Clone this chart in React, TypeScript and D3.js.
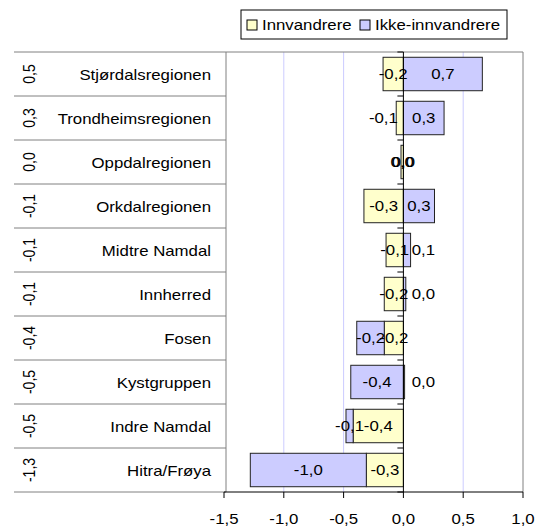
import React from 'react';
import * as d3 from 'd3';

const regions = [
  'Stjørdalsregionen',
  'Trondheimsregionen',
  'Oppdalregionen',
  'Orkdalregionen',
  'Midtre Namdal',
  'Innherred',
  'Fosen',
  'Kystgruppen',
  'Indre Namdal',
  'Hitra/Frøya',
];
const totals = ['0,5', '0,3', '0,0', '-0,1', '-0,1', '-0,1', '-0,4', '-0,5', '-0,5', '-1,3'];
const innvandrere = [-0.17, -0.06, -0.02, -0.33, -0.145, -0.16, -0.16, 0.01, -0.42, -0.31];
const ikkeInnvandrere = [0.66, 0.34, 0.0, 0.26, 0.06, 0.02, -0.23, -0.44, -0.06, -0.97];
const seriesNames = ['Innvandrere', 'Ikke-innvandrere'];
const xTicks = [-1.5, -1.0, -0.5, 0.0, 0.5, 1.0];

const colors = ['#ffffcc', '#ccccff'];
const FONT = '"Liberation Sans", Arial, sans-serif';
const SX = 1.2; // text in the picture is stretched sideways

const fmt = d3
  .formatLocale({ decimal: ',', thousands: '.', grouping: [3], currency: ['', ''], minus: '-' })
  .format('.1f');

const W = 542;
const H = 526;
const plot = { left: 224, right: 523, top: 52, bottom: 492 };
const panelLeft = 14;

type Row = { region: string; [k: string]: any };

const App: React.FC = () => {
  const rows: Row[] = regions.map((r, i) => ({
    region: r,
    [seriesNames[0]]: innvandrere[i],
    [seriesNames[1]]: ikkeInnvandrere[i],
  }));

  const x = d3.scaleLinear().domain([-1.5, 1.0]).range([plot.left, plot.right]);
  const y = d3
    .scaleBand<string>()
    .domain(regions)
    .range([plot.top, plot.bottom])
    .paddingInner(0.24)
    .paddingOuter(0.12);
  const step = y.step();

  const stacked = d3
    .stack<Row>()
    .keys(seriesNames)
    .value((d, k) => d[k])
    .offset(d3.stackOffsetDiverging)(rows);

  const segWidth = (s: number, i: number) => Math.abs(x(stacked[s][i][1]) - x(stacked[s][i][0]));

  // labels sit in the middle of their piece; a thin piece at the zero line
  // gets its label pushed a bit outwards
  const labelX = (s: number, i: number) => {
    const seg = stacked[s][i];
    const w = segWidth(s, i);
    const other = segWidth(1 - s, i);
    const atZero = seg[0] === 0 || seg[1] === 0;
    if (w < 8 && other >= 8 && atZero) {
      const v = s === 0 ? innvandrere[i] : ikkeInnvandrere[i];
      return x(0) + (v >= 0 ? 20 : -20);
    }
    return (x(seg[0]) + x(seg[1])) / 2;
  };

  const rowTop = (r: string) => y(r)! - (step - y.bandwidth()) / 2;

  return (
    <svg
      width={W}
      height={H}
      style={{ position: 'absolute', left: 0, top: 0, background: '#fff' }}
      fontFamily={FONT}
      fontSize={14}
    >
      <rect width={W} height={H} fill="#fff" />

      {/* legend */}
      <g>
        <rect x={241} y={10} width={266} height={29} fill="#fff" stroke="#000" />
        {seriesNames.map((n, i) => {
          const lx = i === 0 ? 247 : 360;
          return (
            <g key={n}>
              <rect x={lx} y={20} width={10} height={10} fill={colors[i]} stroke="#000" />
              <text transform={`translate(${lx + 15},25) scale(${SX},1)`} dy="0.35em">
                {n}
              </text>
            </g>
          );
        })}
      </g>

      {/* left panel */}
      <g>
        {regions.map((r, i) => {
          const t = rowTop(r);
          const cy = t + step / 2;
          return (
            <g key={r}>
              <line x1={panelLeft} x2={plot.left + 2} y1={t} y2={t} stroke="#808080" />
              <text transform={`translate(211,${cy + 1}) scale(${SX},1)`} dy="0.35em" textAnchor="end">
                {r}
              </text>
              <text
                transform={`translate(29,${cy}) scale(${SX},1) rotate(-90)`}
                dy="0.35em"
                textAnchor="middle"
              >
                {totals[i]}
              </text>
            </g>
          );
        })}
        <line x1={panelLeft} x2={plot.left + 2} y1={plot.bottom} y2={plot.bottom} stroke="#808080" />
      </g>

      {/* grid */}
      {xTicks
        .filter((t) => t !== 0 && t !== -1.5 && t !== 1.0)
        .map((t) => (
          <line key={t} x1={x(t)} x2={x(t)} y1={plot.top} y2={plot.bottom} stroke="#ccccff" />
        ))}
      <line x1={plot.left + 2} x2={plot.right} y1={plot.top} y2={plot.top} stroke="#808080" />
      <line x1={plot.right} x2={plot.right} y1={plot.top} y2={plot.bottom} stroke="#808080" />
      <line x1={plot.left + 2} x2={plot.left + 2} y1={plot.top} y2={plot.bottom} stroke="#808080" />

      {/* bars */}
      {stacked.map((s, si) => (
        <g key={s.key}>
          {s.map((d, i) => {
            const x0 = x(Math.min(d[0], d[1]));
            const x1 = x(Math.max(d[0], d[1]));
            return (
              <rect
                key={i}
                x={x0}
                y={y(regions[i])}
                width={Math.max(0, x1 - x0)}
                height={y.bandwidth()}
                fill={colors[si]}
                stroke="#222"
              />
            );
          })}
        </g>
      ))}

      {/* zero axis */}
      <line x1={x(0)} x2={x(0)} y1={plot.top} y2={plot.bottom} stroke="#000" />
      {regions.map((r) => (
        <line key={r} x1={x(0) - 6} x2={x(0)} y1={rowTop(r)} y2={rowTop(r)} stroke="#000" />
      ))}
      <line x1={x(0) - 6} x2={x(0)} y1={plot.bottom} y2={plot.bottom} stroke="#000" />

      {/* bottom axis */}
      <line x1={plot.left} x2={plot.right} y1={plot.bottom} y2={plot.bottom} stroke="#000" />
      {xTicks.map((t) => (
        <g key={t}>
          <line x1={x(t)} x2={x(t)} y1={plot.bottom} y2={plot.bottom + 6} stroke="#000" />
          <text
            transform={`translate(${x(t)},${plot.bottom + 27}) scale(${SX},1)`}
            dy="0.35em"
            textAnchor="middle"
          >
            {fmt(t)}
          </text>
        </g>
      ))}

      {/* data labels */}
      {stacked.map((s, si) => (
        <g key={'l' + s.key}>
          {s.map((d, i) => {
            const v = si === 0 ? innvandrere[i] : ikkeInnvandrere[i];
            const cy = y(regions[i])! + y.bandwidth() / 2;
            return (
              <text
                key={i}
                transform={`translate(${labelX(si, i)},${cy}) scale(${SX},1)`}
                dy="0.35em"
                textAnchor="middle"
              >
                {fmt(v)}
              </text>
            );
          })}
        </g>
      ))}
    </svg>
  );
};

export default App;
